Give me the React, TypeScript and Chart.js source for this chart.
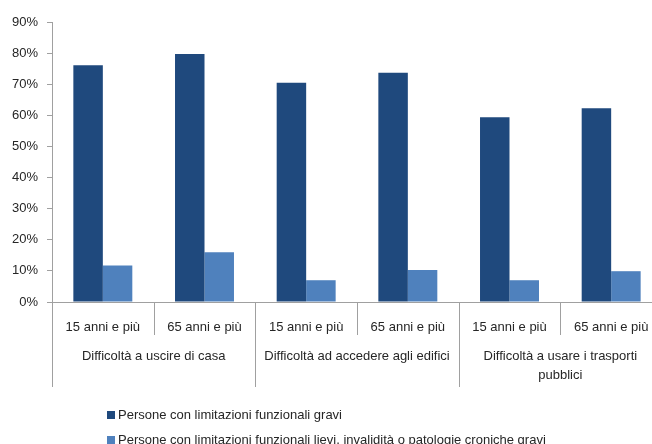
import React, { useEffect, useRef } from "react";
import { Chart, registerables } from "chart.js";
Chart.register(...registerables);

const subLabels = ["15 anni e più", "65 anni e più", "15 anni e più", "65 anni e più", "15 anni e più", "65 anni e più"];
const groupLabels = [["Difficoltà a uscire di casa"], ["Difficoltà ad accedere agli edifici"], ["Difficoltà a usare i trasporti", "pubblici"]];
const seriesNames = ["Persone con limitazioni funzionali gravi", "Persone con limitazioni funzionali lievi, invalidità o patologie croniche gravi"];
const severe = [76.1, 79.7, 70.5, 73.7, 59.4, 62.3];
const mild = [11.7, 16.0, 7.0, 10.3, 7.0, 9.9];
const yMax = 90;
const yStep = 10;

const DARK = "#1F497D";
const LIGHT = "#4F81BD";
const AXIS = "#a0a0a0";
const TEXT = "#262626";
const FONT = '"Liberation Sans", Arial, sans-serif';

const groupPlugin = {
  id: "groupAxis",
  afterDraw(chart: any) {
    const { ctx, chartArea, scales } = chart;
    const x = scales.x;
    const half = (x.getPixelForValue(1) - x.getPixelForValue(0)) / 2;
    const bottom = chartArea.bottom;
    ctx.save();
    ctx.strokeStyle = AXIS;
    ctx.lineWidth = 1;
    for (let i = 0; i <= subLabels.length; i++) {
      const px = Math.round(x.getPixelForValue(i) - half) + 0.5;
      const isGroup = i % 2 === 0;
      ctx.beginPath();
      ctx.moveTo(px, bottom);
      ctx.lineTo(px, bottom + (isGroup ? 85 : 33));
      ctx.stroke();
    }
    ctx.fillStyle = TEXT;
    ctx.font = "13px " + FONT;
    ctx.textAlign = "center";
    ctx.textBaseline = "middle";
    groupLabels.forEach((lines, g) => {
      const cx = (x.getPixelForValue(2 * g) + x.getPixelForValue(2 * g + 1)) / 2;
      lines.forEach((l, k) => ctx.fillText(l, cx, bottom + 54 + k * 19));
    });
    ctx.restore();
  },
};

export default function App() {
  const ref = useRef<HTMLCanvasElement>(null);
  useEffect(() => {
    if (!ref.current) return;
    const chart = new Chart(ref.current, {
      type: "bar",
      data: {
        labels: subLabels,
        datasets: [
          { label: seriesNames[0], data: severe, backgroundColor: DARK },
          { label: seriesNames[1], data: mild, backgroundColor: LIGHT },
        ],
      },
      options: {
        responsive: false,
        animation: false,
        layout: { padding: { top: 22, left: 0, right: 0, bottom: 0 } },
        datasets: { bar: { categoryPercentage: 0.58, barPercentage: 1 } },
        plugins: { legend: { display: false }, tooltip: { enabled: false } },
        scales: {
          x: {
            offset: true,
            grid: { display: false },
            border: { display: true, color: AXIS },
            ticks: { color: TEXT, font: { family: FONT, size: 13 }, padding: 10, maxRotation: 0, autoSkip: false },
            afterFit: (s: any) => { s.height = 142; },
          },
          y: {
            min: 0,
            max: yMax,
            grid: { display: true, drawOnChartArea: false, tickLength: 5, color: AXIS },
            border: { display: true, color: AXIS },
            ticks: { stepSize: yStep, color: TEXT, font: { family: FONT, size: 13 }, padding: 9, callback: (v: any) => v + "%" },
            afterFit: (s: any) => { s.width = 52; },
          },
        },
      },
      plugins: [groupPlugin],
    });
    return () => chart.destroy();
  }, []);

  const legendColors = [DARK, LIGHT];
  return (
    <div style={{ position: "fixed", left: 0, top: 0, width: 652, height: 444, overflow: "hidden", background: "#fff" }}>
      <canvas ref={ref} width={662} height={444} style={{ display: "block", width: 662, height: 444 }} />
      <div style={{ position: "absolute", left: 107, top: 402, fontFamily: FONT, fontSize: 13, color: TEXT }}>
        {seriesNames.map((n, i) => (
          <div key={i} style={{ display: "flex", alignItems: "center", height: 25, whiteSpace: "nowrap" }}>
            <span style={{ display: "inline-block", width: 8, height: 8, background: legendColors[i], marginRight: 3 }} />
            <span>{n}</span>
          </div>
        ))}
      </div>
    </div>
  );
}
